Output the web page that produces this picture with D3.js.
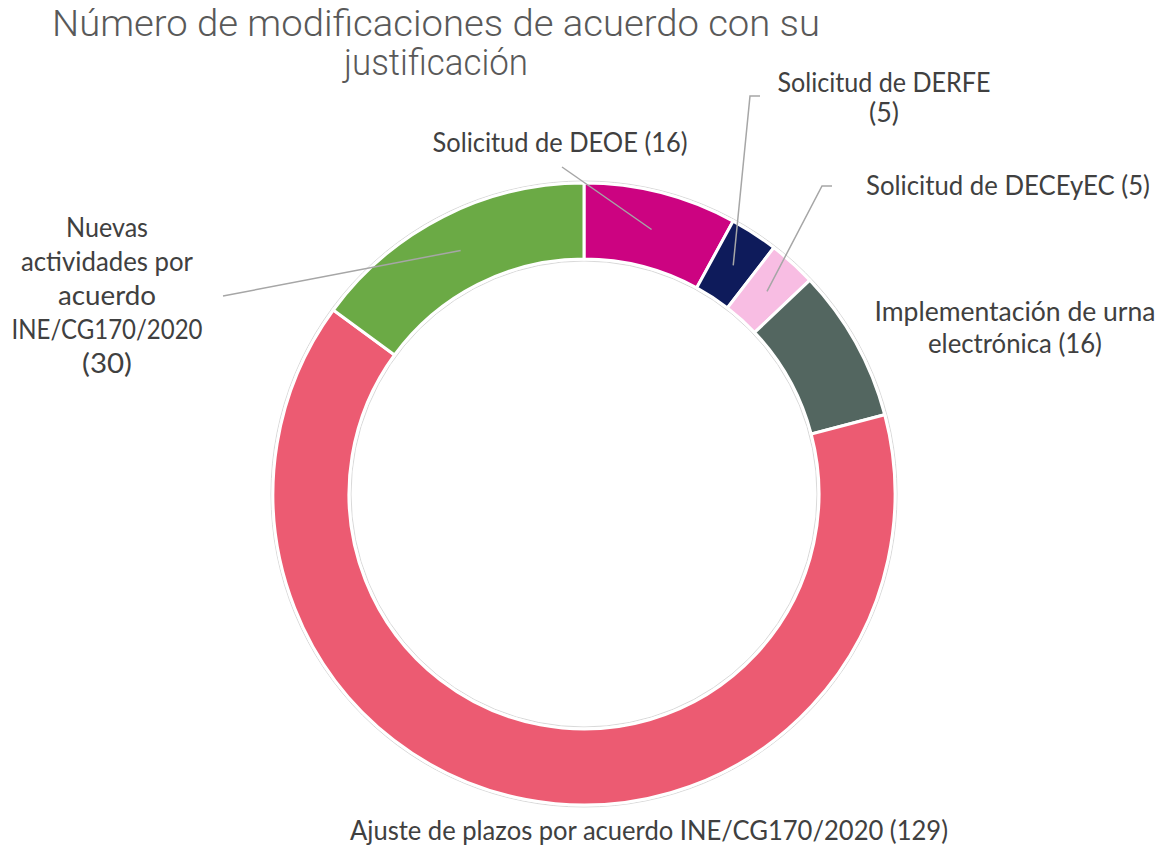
<!DOCTYPE html>
<html>
<head>
<meta charset="utf-8">
<script src="https://cdn.jsdelivr.net/npm/d3@7"></script>
<style>
  body { margin: 0; background: #fff; }
  svg { display: block; }
</style>
</head>
<body>
<script>
// data
const categories = [
  "Solicitud de DEOE",
  "Solicitud de DERFE",
  "Solicitud de DECEyEC",
  "Implementación de urna electrónica",
  "Ajuste de plazos por acuerdo INE/CG170/2020",
  "Nuevas actividades por acuerdo INE/CG170/2020"
];
const values = [16, 5, 5, 16, 129, 30];
const colors = ["#CC0381", "#0E1B5B", "#F8BDE3", "#536660", "#EC5B72", "#6BAA45"];

// label lines per slice (text, as shown)
const labelLines = [
  ["Solicitud de DEOE (16)"],
  ["Solicitud de DERFE", "(5)"],
  ["Solicitud de DECEyEC (5)"],
  ["Implementación de urna", "electrónica (16)"],
  ["Ajuste de plazos por acuerdo INE/CG170/2020 (129)"],
  ["Nuevas", "actividades por", "acuerdo", "INE/CG170/2020", "(30)"]
];

const width = 1159, height = 849;
const cx = 584, cy = 494, outerR = 311, innerR = 235;

// label layout: centre x, first baseline, line gap, widths per line, leader start points
const labelLayout = [
  {x: 560, y: 152, dy: 34, w: [255], leader: [[562, 167]]},
  {x: 884, y: 92, dy: 30, w: [213, 30], leader: [[760, 96], [750, 96]]},
  {x: 1008, y: 195, dy: 34, w: [284], leader: [[832, 186], [822, 186]]},
  {x: 1015, y: 321, dy: 32, w: [281, 174], leader: null},
  {x: 649, y: 840, dy: 34, w: [598], leader: null},
  {x: 107, y: 237, dy: 34, w: [82, 172, 98, 191, 50], leader: [[223, 296]]}
];

const svg = d3.select("body").append("svg")
  .attr("width", width)
  .attr("height", height);

// title
const title = svg.append("g")
  .attr("font-family", "Roboto, sans-serif")
  .attr("font-weight", 300)
  .attr("font-size", 36)
  .attr("fill", "#595959")
  .attr("text-anchor", "middle");
title.append("text").attr("x", 436).attr("y", 36)
  .attr("textLength", 768).attr("lengthAdjust", "spacingAndGlyphs")
  .text("Número de modificaciones de acuerdo con su");
title.append("text").attr("x", 436).attr("y", 75)
  .attr("textLength", 184).attr("lengthAdjust", "spacingAndGlyphs")
  .text("justificación");

// pie layout, clockwise from top
const pie = d3.pie().sort(null).value(d => d)(values);
const arc = d3.arc().innerRadius(innerR).outerRadius(outerR);

const g = svg.append("g").attr("transform", `translate(${cx},${cy})`);

// faint outline rings
g.append("circle").attr("r", outerR + 2).attr("fill", "none")
  .attr("stroke", "#d9d9d9").attr("stroke-width", 1);
g.append("circle").attr("r", innerR - 2).attr("fill", "none")
  .attr("stroke", "#d9d9d9").attr("stroke-width", 1);

g.selectAll("path.slice")
  .data(pie)
  .join("path")
  .attr("class", "slice")
  .attr("d", arc)
  .attr("fill", (d, i) => colors[i])
  .attr("stroke", "#fff")
  .attr("stroke-width", 3);

// leader lines, ending at the slice centroid
const lineGen = d3.line();
svg.append("g")
  .selectAll("path")
  .data(pie.filter((d, i) => labelLayout[i].leader))
  .join("path")
  .attr("fill", "none")
  .attr("stroke", "#a6a6a6")
  .attr("stroke-width", 1.5)
  .attr("d", d => {
    const c = arc.centroid(d);
    const pts = labelLayout[d.index].leader.concat([[cx + c[0], cy + c[1]]]);
    return lineGen(pts);
  });

// labels
const labels = svg.append("g")
  .attr("font-family", "Lato, 'Open Sans', sans-serif")
  .attr("font-size", 26)
  .attr("fill", "#404040")
  .attr("text-anchor", "middle");

labelLines.forEach((lines, i) => {
  const L = labelLayout[i];
  lines.forEach((t, j) => {
    labels.append("text")
      .attr("x", L.x)
      .attr("y", L.y + j * L.dy)
      .attr("textLength", L.w[j])
      .attr("lengthAdjust", "spacingAndGlyphs")
      .text(t);
  });
});
</script>
</body>
</html>
